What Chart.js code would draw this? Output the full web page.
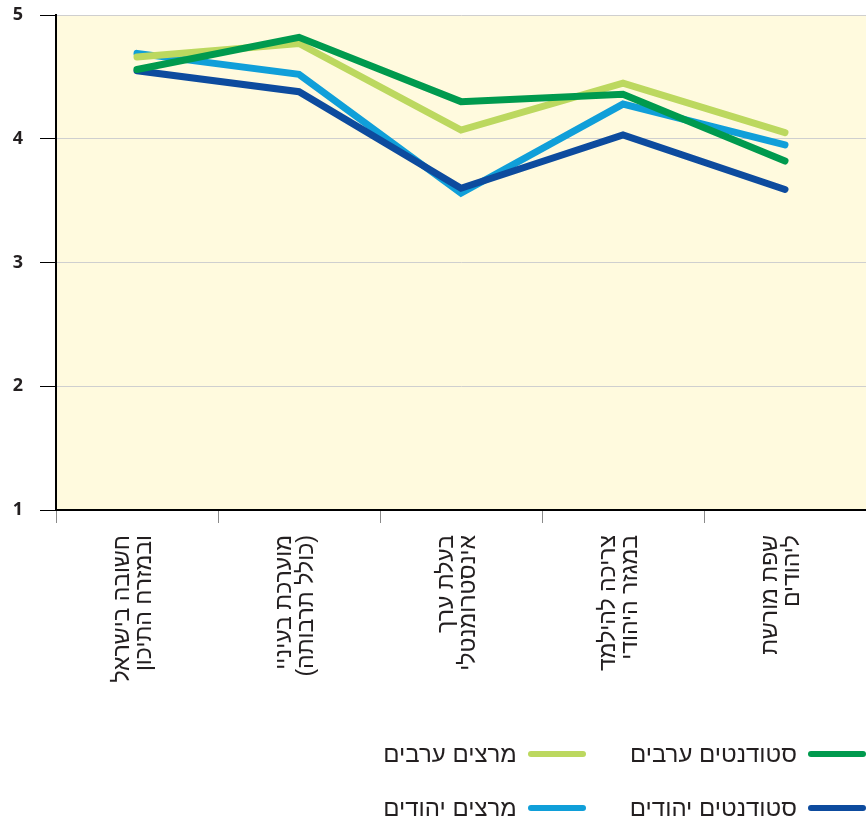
<!DOCTYPE html>
<html lang="he" dir="rtl">
<head>
  <meta charset="UTF-8">
  <title>עמדות כלפי השפה הערבית</title>
  <script src="https://cdn.jsdelivr.net/npm/chart.js"></script>
  <style>
    body { margin: 0; background: #fff; }
    .wrap { position: relative; width: 866px; height: 820px; }
    #legend {
      position: absolute; top: 739px; right: 0;
      display: grid; grid-template-columns: auto auto; column-gap: 44px; row-gap: 24px;
      font-family: "Liberation Sans", Arial, sans-serif; font-size: 24px; color: #231f20;
    }
    #legend .item { display: flex; align-items: center; gap: 11px; height: 30px; }
    #legend .line { display: inline-block; width: 58px; height: 6px; border-radius: 3px; }
  </style>
</head>
<body>
  <div class="wrap">
    <canvas id="chart" width="866" height="820"></canvas>
    <div id="legend"></div>
  </div>

  <script>
    // קטגוריות וערכים
    const categories = [
      ['חשובה בישראל', 'ובמזרח התיכון'],
      ['מוערכת בעיניי', '(כולל תרבותה)'],
      ['בעלת ערך', 'אינסטרומנטלי'],
      ['צריכה להילמד', 'במגזר היהודי'],
      ['שפת מורשת', 'ליהודים']
    ];
    const seriesNames = ['סטודנטים ערבים', 'מרצים ערבים', 'סטודנטים יהודים', 'מרצים יהודים'];
    const studentsArab = [4.56, 4.82, 4.30, 4.36, 3.82];
    const lecturersArab = [4.66, 4.77, 4.07, 4.45, 4.05];
    const studentsJewish = [4.55, 4.38, 3.60, 4.03, 3.59];
    const lecturersJewish = [4.69, 4.52, 3.56, 4.28, 3.95];
    const yTicks = [1, 2, 3, 4, 5];

    const colors = ['#009a4e', '#bcd85f', '#0d4b9e', '#109fd9'];
    const drawOrder = [1, 3, 2, 4];

    const plotBg = {
      id: 'plotBg',
      beforeDraw(chart) {
        const { ctx, chartArea: a } = chart;
        ctx.save();
        ctx.fillStyle = '#fffade';
        ctx.fillRect(a.left, a.top, a.right - a.left, a.bottom - a.top);
        ctx.restore();
      }
    };

    const data = [studentsArab, lecturersArab, studentsJewish, lecturersJewish];

    const chart = new Chart(document.getElementById('chart'), {
      type: 'line',
      data: {
        labels: categories,
        datasets: data.map((d, i) => ({
          label: seriesNames[i],
          data: d,
          borderColor: colors[i],
          backgroundColor: colors[i],
          borderWidth: 7,
          borderCapStyle: 'round',
          pointRadius: 0,
          tension: 0,
          order: drawOrder[i]
        }))
      },
      options: {
        responsive: false,
        animation: false,
        layout: { padding: { top: 15, left: 0, right: 0, bottom: 0 } },
        plugins: {
          legend: { display: false },
          tooltip: { enabled: false }
        },
        scales: {
          x: {
            offset: true,
            grid: { offset: true, drawOnChartArea: false, drawTicks: true, tickLength: 13, tickColor: '#8a8a8a' },
            border: { color: '#000', width: 2 },
            ticks: {
              minRotation: 90, maxRotation: 90, padding: 12, labelOffset: -14,
              color: '#231f20',
              font: { family: '"Liberation Sans", Arial, sans-serif', size: 23, lineHeight: 0.95 }
            },
            afterFit(scale) { scale.height = 310; scale.paddingLeft = 0; scale.paddingRight = 0; }
          },
          y: {
            min: 1, max: 5,
            afterBuildTicks(scale) { scale.ticks = yTicks.map(v => ({ value: v })); },
            grid: { color: '#cfcfcf', tickColor: '#000', tickLength: 16, lineWidth: 1 },
            border: { color: '#000', width: 2 },
            ticks: {
              padding: 17, color: '#231f20',
              font: { family: '"Open Sans", sans-serif', size: 18, weight: 'bold' }
            },
            afterFit(scale) { scale.width = 56; scale.paddingTop = 0; scale.paddingBottom = 0; }
          }
        }
      },
      plugins: [plotBg]
    });

    // מקרא
    const legend = document.getElementById('legend');
    legend.innerHTML = chart.data.datasets.map(ds => `
      <div class="item"><span class="line" style="background:${ds.borderColor}"></span><span>${ds.label}</span></div>
    `).join('');
  </script>
</body>
</html>
